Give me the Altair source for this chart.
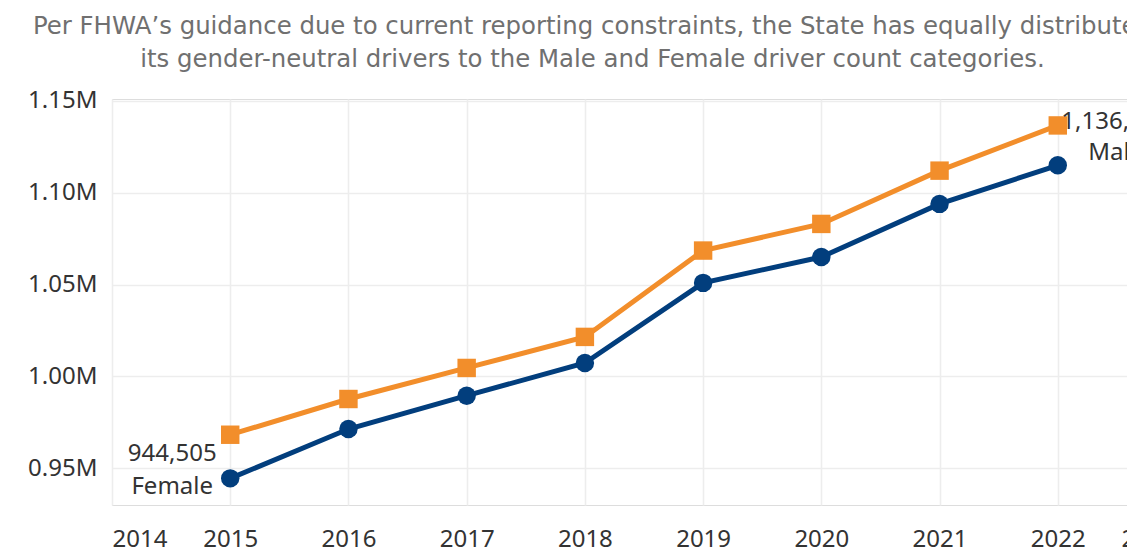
import altair as alt
import pandas as pd

years = [2015, 2016, 2017, 2018, 2019, 2020, 2021, 2022]
female = [944505, 971350, 989500, 1007300, 1050900, 1065000, 1093900, 1114900]
male = [968250, 987700, 1004600, 1021500, 1068500, 1083000, 1112000, 1136612]

x_ticks = [2014, 2015, 2016, 2017, 2018, 2019, 2020, 2021, 2022, 2023]
y_ticks = [950000, 1000000, 1050000, 1100000, 1150000]

subtitle = [
    "Per FHWA\u2019s guidance due to current reporting constraints, the State has equally distributed",
    "its gender-neutral drivers to the Male and Female driver count categories.",
]

BLUE = "#023e7d"
ORANGE = "#f28e2b"
FONT = "Noto Sans"
SUB_FONT = "DejaVu Sans"

rows = []
for y, f, m in zip(years, female, male):
    rows.append({"year": y, "value": f, "gender": "Female"})
    rows.append({"year": y, "value": m, "gender": "Male"})
df = pd.DataFrame(rows)

x_enc = alt.X(
    "year:Q",
    scale=alt.Scale(domain=[2014, 2023], range=[0, 1064], nice=False, zero=False),
    axis=alt.Axis(
        values=x_ticks, format="d", title=None, ticks=False, domain=False,
        labelFlush=True, labelPadding=22, labelFontSize=24, labelFont=FONT,
        labelColor="#333333", grid=True, gridColor="#ededed", gridWidth=1.6,
    ),
)
y_enc = alt.Y(
    "value:Q",
    scale=alt.Scale(domain=[930000, 1151000], nice=False, zero=False),
    axis=alt.Axis(
        values=y_ticks, labelExpr="format(datum.value / 1000000, '.2f') + 'M'",
        title=None, ticks=False, domain=False, labelPadding=15,
        labelFontSize=24, labelFont=FONT, labelColor="#333333",
        grid=True, gridColor="#ededed", gridWidth=1.6,
    ),
)
color_enc = alt.Color(
    "gender:N",
    scale=alt.Scale(domain=["Female", "Male"], range=[BLUE, ORANGE]),
    legend=None,
)

base = alt.Chart(df).encode(x=x_enc, y=y_enc, color=color_enc)

lines = base.mark_line(strokeWidth=5)
points = base.mark_point(filled=True, opacity=1, size=340).encode(
    shape=alt.Shape(
        "gender:N",
        scale=alt.Scale(domain=["Female", "Male"], range=["circle", "square"]),
        legend=None,
    )
)

lab = base.transform_calculate(
    label="format(datum.value, ',') + '\\n' + datum.gender"
)
female_lab = lab.transform_filter(
    "datum.gender == 'Female' && datum.year == 2015"
).mark_text(
    lineBreak="\n", lineHeight=33, align="center", baseline="middle",
    dx=-58, dy=-24, fontSize=24, font=FONT, color="#333333",
).encode(text="label:N", color=alt.value("#333333"))
male_lab = lab.transform_filter(
    "datum.gender == 'Male' && datum.year == 2022"
).mark_text(
    lineBreak="\n", lineHeight=31, align="center", baseline="middle",
    dx=58, dy=-3, fontSize=24, font=FONT, color="#333333",
).encode(text="label:N", color=alt.value("#333333"))

chart = alt.layer(lines, points, female_lab, male_lab).properties(
    width=1015,
    height=406,
    padding={"left": 104, "top": 91, "right": 0, "bottom": 50},
    autosize=alt.AutoSizeParams(type="none"),
    title=alt.TitleParams(
        text=subtitle, anchor="middle", frame="group", dx=-27,
        font=SUB_FONT, fontSize=24.4, fontWeight="normal", color="#707070",
        lineHeight=33, offset=16,
    ),
).configure_view(stroke=None).configure(background="white")

chart.save("out.html", embed_options={"renderer": "svg", "actions": False})
